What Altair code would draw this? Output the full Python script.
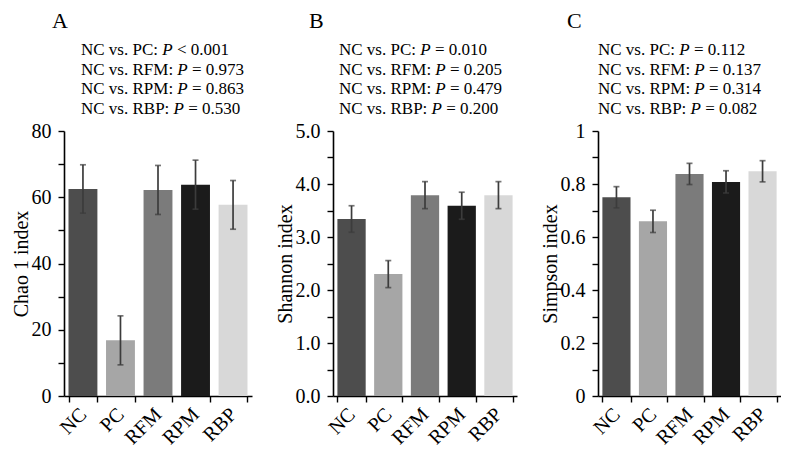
import altair as alt
import pandas as pd

# ---------------- data ----------------
groups = ["NC", "PC", "RFM", "RPM", "RBP"]
bar_colors = ["#4d4d4d", "#a6a6a6", "#7b7b7b", "#1b1b1b", "#d8d8d8"]

chao_mean = [62.5, 16.8, 62.2, 63.8, 57.7]
chao_err = [7.3, 7.4, 7.4, 7.4, 7.35]

shannon_mean = [3.34, 2.30, 3.79, 3.59, 3.79]
shannon_err = [0.25, 0.255, 0.255, 0.255, 0.255]

simpson_mean = [0.750, 0.659, 0.838, 0.808, 0.848]
simpson_err = [0.040, 0.042, 0.040, 0.042, 0.040]

comparisons = ["NC vs. PC", "NC vs. RFM", "NC vs. RPM", "NC vs. RBP"]
chao_p = ["< 0.001", "= 0.973", "= 0.863", "= 0.530"]
shannon_p = ["= 0.010", "= 0.205", "= 0.479", "= 0.200"]
simpson_p = ["= 0.112", "= 0.137", "= 0.314", "= 0.082"]

chao_ticks = [0, 10, 20, 30, 40, 50, 60, 70, 80]
shannon_ticks = [0, 0.5, 1.0, 1.5, 2.0, 2.5, 3.0, 3.5, 4.0, 4.5, 5.0]
simpson_ticks = [0, 0.1, 0.2, 0.3, 0.4, 0.5, 0.6, 0.7, 0.8, 0.9, 1.0]

# ---------------- style ----------------
FONT = "Liberation Serif"
EB = "#3c3c3c"
ANN_SIZE = 17
PLOT_H = 265

# Times New Roman / Liberation Serif advance widths (per 1000 em)
TNR = {' ': 250, 'N': 722, 'C': 667, 'v': 500, 's': 389, '.': 250, 'P': 556,
       ':': 278, 'R': 667, 'F': 556, 'M': 889, 'B': 667, '=': 564, '<': 564}
for d in "0123456789":
    TNR[d] = 500
ITALIC_P = 611


def text_width(s, size):
    return sum(TNR.get(c, 500) for c in s) * size / 1000.0


def panel(letter, ytitle, means, errs, pvals, domain, ticks, label_expr, fmt,
          width, letter_dx, text_dx):
    df = pd.DataFrame({
        "group": groups,
        "mean": means,
        "lo": [m - e for m, e in zip(means, errs)],
        "hi": [m + e for m, e in zip(means, errs)],
    })
    xax = alt.Axis(title=None, labelAngle=-45, labelAlign="right",
                   labelBaseline="middle", tickBand="extent", labelPadding=9)
    xenc = alt.X("group:N", sort=groups,
                 scale=alt.Scale(paddingInner=0.23, paddingOuter=0.12), axis=xax)
    ysc = alt.Scale(domain=domain, nice=False, zero=True)
    yax = alt.Axis(title=ytitle, values=ticks, labelExpr=label_expr, format=fmt,
                   titlePadding=0, labelPadding=7)

    base = alt.Chart(df)
    bars = base.mark_bar().encode(
        x=xenc,
        y=alt.Y("mean:Q", scale=ysc, axis=yax),
        color=alt.Color("group:N", scale=alt.Scale(domain=groups, range=bar_colors), legend=None),
    )
    rule = base.mark_rule(color=EB, strokeWidth=1.7).encode(
        x=xenc, y=alt.Y("lo:Q", scale=ysc, axis=yax), y2="hi:Q")
    cap_hi = base.mark_tick(color=EB, size=6, thickness=1.7).encode(
        x=xenc, y=alt.Y("hi:Q", scale=ysc, axis=yax))
    cap_lo = base.mark_tick(color=EB, size=6, thickness=1.7).encode(
        x=xenc, y=alt.Y("lo:Q", scale=ysc, axis=yax))

    # annotation lines: prefix (regular) + P (italic) + suffix (regular)
    rows = []
    for i, (comp, p) in enumerate(zip(comparisons, pvals)):
        prefix = comp + ":"
        x0 = text_dx
        xp = x0 + text_width(prefix + " ", ANN_SIZE)
        xs = xp + (ITALIC_P + TNR[' ']) * ANN_SIZE / 1000.0
        rows.append({"prefix": prefix, "pp": "P", "suffix": p,
                     "x0": x0, "xp": xp, "xs": xs, "y": -76 + i * 19.7})
    tdf = pd.DataFrame(rows)
    tbase = alt.Chart(tdf)
    t1 = tbase.mark_text(align="left", baseline="alphabetic", font=FONT,
                         fontSize=ANN_SIZE, color="black").encode(
        x=alt.X("x0:Q", scale=None), y=alt.Y("y:Q", scale=None), text="prefix:N")
    t2 = tbase.mark_text(align="left", baseline="alphabetic", font=FONT,
                         fontSize=ANN_SIZE, fontStyle="italic", color="black").encode(
        x=alt.X("xp:Q", scale=None), y=alt.Y("y:Q", scale=None), text="pp:N")
    t3 = tbase.mark_text(align="left", baseline="alphabetic", font=FONT,
                         fontSize=ANN_SIZE, color="black").encode(
        x=alt.X("xs:Q", scale=None), y=alt.Y("y:Q", scale=None), text="suffix:N")

    ldf = pd.DataFrame({"letter": [letter], "lx": [letter_dx], "ly": [-103]})
    tl = alt.Chart(ldf).mark_text(align="left", baseline="alphabetic", font=FONT,
                                  fontSize=22, color="black").encode(
        x=alt.X("lx:Q", scale=None), y=alt.Y("ly:Q", scale=None), text="letter:N")

    return alt.layer(bars, rule, cap_hi, cap_lo, t1, t2, t3, tl).properties(
        width=width, height=PLOT_H)


pA = panel("A", "Chao 1 index", chao_mean, chao_err, chao_p, [0, 80], chao_ticks,
           "datum.value % 20 == 0 ? datum.label : ''", "d", 188, -12, 17)
pB = panel("B", "Shannon index", shannon_mean, shannon_err, shannon_p, [0, 5], shannon_ticks,
           "round(datum.value * 2) % 2 == 0 ? datum.label : ''", ".1f", 184, -24, 6)
pC = panel("C", "Simpson index", simpson_mean, simpson_err, simpson_p, [0, 1], simpson_ticks,
           "round(datum.value * 10) % 2 == 0 ? format(datum.value, '~g') : ''", "~g", 183, -31, 0)

chart = alt.hconcat(
    pA, pB, pC, spacing=23,
    padding={"left": 3, "top": 2, "right": 0, "bottom": 0},
).configure(
    background="white"
).configure_view(
    stroke=None
).configure_axis(
    labelFont=FONT, titleFont=FONT, labelFontSize=20, titleFontSize=20,
    titleFontWeight="normal", labelColor="black", titleColor="black",
    domainColor="black", domainWidth=1.6, tickColor="black", tickWidth=1.4,
    tickSize=6, grid=False,
)

chart.save("out.html", embed_options={"renderer": "svg", "actions": False})
